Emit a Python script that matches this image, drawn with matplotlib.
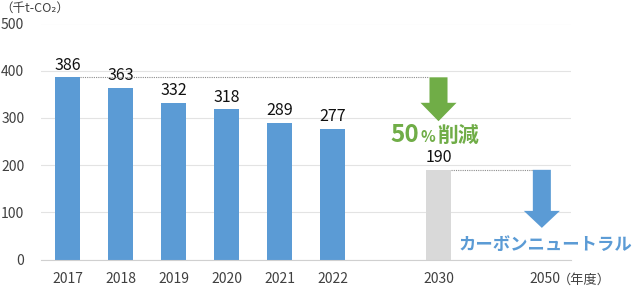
import matplotlib
matplotlib.use("Agg")
import matplotlib.pyplot as plt
from matplotlib.patches import FancyArrow

plt.rcParams['font.family'] = ['Noto Sans CJK JP', 'DejaVu Sans']

# data
years = ['2017', '2018', '2019', '2020', '2021', '2022', '2030', '2050']
positions = [0, 1, 2, 3, 4, 5, 7, 9]
emissions = [386, 363, 332, 318, 289, 277, 190]
target_2030 = 190
yticks = [0, 100, 200, 300, 400, 500]

blue = '#5b9bd5'
gray_bar = '#d9d9d9'
green = '#70ad47'
txt = '#404040'

fig = plt.figure(figsize=(6.4, 2.91), dpi=100)
ax = fig.add_axes([41 / 640, 31.5 / 291, 530 / 640, 236 / 291])

w = 0.47
colors = [blue] * 6 + [gray_bar]
ax.bar(positions[:7], emissions, width=w, color=colors, zorder=2)
for x, v in zip(positions[:7], emissions):
    ax.text(x, v + 8, str(v), ha='center', va='bottom', fontsize=11.5, color='#111111')

ax.set_xlim(-0.5, 9.5)
ax.set_ylim(0, 500)
ax.set_yticks(yticks)
ax.set_xticks(positions)
ax.set_xticklabels(years)
ax.tick_params(axis='x', length=0, pad=9, labelsize=10, labelcolor=txt)
ax.tick_params(axis='y', length=0, pad=12, labelsize=10, labelcolor=txt)
ax.grid(axis='y', color='#e3e3e3', lw=0.8, zorder=0)
for s in ['top', 'right', 'left']:
    ax.spines[s].set_visible(False)
ax.spines['bottom'].set_color('#d0d0d0')

# dotted reference lines
ax.hlines(emissions[0], positions[0] + w / 2, 7 - 0.17, colors='#8c8c8c',
          linestyles=(0, (1, 1)), lw=0.8, zorder=3)
ax.hlines(target_2030, 7 + w / 2, 8.95 - 0.17, colors='#8c8c8c',
          linestyles=(0, (1, 1)), lw=0.8, zorder=3)

# arrows
ax.add_patch(FancyArrow(7, emissions[0], 0, 293 - emissions[0], width=0.34,
                        head_width=0.68, head_length=39, length_includes_head=True,
                        color=green, lw=0, zorder=4))
ax.add_patch(FancyArrow(8.95, target_2030, 0, 67 - target_2030, width=0.34,
                        head_width=0.68, head_length=36, length_includes_head=True,
                        color=blue, lw=0, zorder=4, clip_on=False))

# annotations
ax.text(6.64, 249, '50', ha='right', va='baseline', fontsize=17.5, fontweight='bold', color=green)
ax.text(6.66, 249, '%', ha='left', va='baseline', fontsize=11, fontweight='bold', color=green)
ax.text(6.98, 249, '削減', ha='left', va='baseline', fontsize=15, fontweight='bold', color=green)
ax.text(9.02, 31, 'カーボンニュートラル', ha='center', va='center', fontsize=12.5,
        fontweight='bold', color=blue, clip_on=False)

ax.text(9.25, -0.087, '（年度）', transform=ax.get_xaxis_transform(), ha='left',
        va='center', fontsize=9.5, color=txt)
fig.text(0.0, 1 - 8 / 291, '（千t-CO₂）', ha='left', va='center', fontsize=9, color=txt)

fig.savefig('out.png', dpi=100)
